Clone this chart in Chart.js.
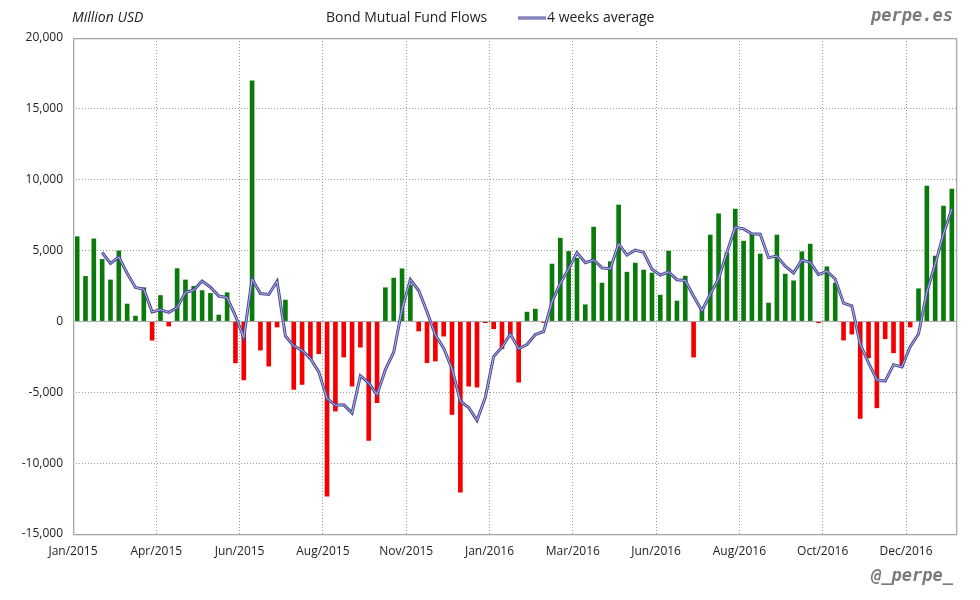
<!DOCTYPE html>
<html>
<head>
<meta charset="utf-8">
<script src="https://cdn.jsdelivr.net/npm/chart.js@4/dist/chart.umd.min.js"></script>
<style>
html,body{margin:0;padding:0;background:#fff;}
#wrap{width:980px;height:600px;position:relative;}
</style>
</head>
<body>
<div id="wrap"><canvas id="c" width="980" height="600"></canvas></div>
<script>
// Weekly bond mutual fund flows (Million USD), Jan 2015 - Dec 2016
const flows = [6000,3200,5850,4400,2950,5000,1250,400,2400,-1350,
  1850,-350,3750,2950,2500,2200,2000,470,2050,-2950,
  -4150,17000,-2050,-3180,-420,1530,-4820,-4470,-2660,-2300,
  -12350,-6350,-2540,-4590,-1840,-8420,-5760,2400,3080,3740,
  2590,-700,-2940,-2820,-1060,-6590,-12070,-4590,-4660,-120,
  -540,-1950,-940,-4310,680,890,-100,4070,5900,4960,
  4490,1200,6680,2730,4240,8240,3500,4140,3650,3440,
  1880,4990,1460,3220,-2540,870,6120,7620,4870,7950,
  5690,6210,4780,1320,6120,3360,2890,4940,5480,-120,
  3880,2730,-1340,-920,-6870,-2590,-6120,-1250,-2240,-3220,
  -420,2330,9580,4640,8160,9360];

// 4 weeks average
const avg4w = [null,null,null,4863,4100,4550,3400,2400,2263,675,
  825,638,975,2050,2213,2850,2413,1793,1680,393,
  -1145,2988,1963,1905,2838,-1030,-1723,-2045,-2605,-3563,
  -5445,-5915,-5885,-6458,-3830,-4348,-5153,-3405,-2175,865,
  2953,2178,673,-968,-1880,-3353,-5635,-6078,-6978,-5360,
  -2478,-1818,-888,-1935,-1630,-920,-710,1385,2690,3708,
  4855,4138,4333,3775,3713,5473,4678,5030,4883,3683,
  3278,3490,2943,2888,1783,753,1918,3018,4870,6640,
  6533,6180,6158,4500,4608,3895,3423,4328,4168,3298,
  3545,2993,1288,1088,-1600,-2930,-4125,-4208,-3050,-3208,
  -1783,-888,2068,4033,6178,7935];

const tickLabels = ['Jan/2015','Apr/2015','Jun/2015','Aug/2015','Nov/2015','Jan/2016',
  'Mar/2016','Jun/2016','Aug/2016','Oct/2016','Dec/2016'];
const tickEvery = 10;
const categories = flows.map((_, i) => 'W' + (i + 1));

const GREEN = '#0a7a0a', RED = '#f40000';
const GRID = '#9a9a9a';

const decor = {
  id: 'decor',
  beforeDatasetsDraw(chart) {
    const {ctx, chartArea: a, scales: {y}} = chart;
    ctx.save();
    ctx.strokeStyle = '#aaaaaa';
    ctx.lineWidth = 1;
    const y0 = Math.round(y.getPixelForValue(0)) + 0.5;
    ctx.beginPath(); ctx.moveTo(a.left, y0); ctx.lineTo(a.right, y0); ctx.stroke();
    ctx.restore();
  },
  afterDraw(chart) {
    const {ctx, chartArea: a} = chart;
    ctx.save();
    // frame with soft shadow
    ctx.strokeStyle = '#e4e4e4'; ctx.lineWidth = 1;
    ctx.strokeRect(Math.round(a.left) + 1.5, Math.round(a.top) + 1.5, Math.round(a.right - a.left), Math.round(a.bottom - a.top));
    ctx.strokeStyle = '#a8a8a8';
    ctx.strokeRect(Math.round(a.left) + 0.5, Math.round(a.top) + 0.5, Math.round(a.right - a.left), Math.round(a.bottom - a.top));
    // header texts
    ctx.fillStyle = '#222';
    ctx.textBaseline = 'middle';
    ctx.font = 'italic 14px "Open Sans"';
    ctx.textAlign = 'left';
    ctx.fillText('Million USD', 72, 18);
    ctx.font = '14px "Open Sans"';
    ctx.fillText('Bond Mutual Fund Flows', 326, 18);
    // legend line
    ctx.strokeStyle = '#4a4a98'; ctx.lineWidth = 3;
    ctx.beginPath(); ctx.moveTo(518, 18); ctx.lineTo(546, 18); ctx.stroke();
    ctx.strokeStyle = '#b8b8e4'; ctx.lineWidth = 1;
    ctx.beginPath(); ctx.moveTo(518, 18); ctx.lineTo(546, 18); ctx.stroke();
    ctx.fillStyle = '#222';
    ctx.fillText('4 weeks average', 547, 18);
    // watermarks
    ctx.fillStyle = '#7a7a7a';
    ctx.font = 'bold oblique 17px "DejaVu Sans Mono"';
    ctx.textAlign = 'right';
    ctx.fillText('perpe.es', 953, 17);
    ctx.fillText('@_perpe_', 953, 577);
    ctx.restore();
  }
};

new Chart(document.getElementById('c'), {
  type: 'bar',
  data: {
    labels: categories,
    datasets: [
      {
        type: 'line', label: '4 weeks average inner', data: avg4w,
        borderColor: '#b8b8e4', borderWidth: 1, pointRadius: 0, tension: 0,
        spanGaps: false, order: 0
      },
      {
        type: 'line', label: '4 weeks average', data: avg4w,
        borderColor: '#4a4a98', borderWidth: 3, pointRadius: 0, tension: 0,
        spanGaps: false, order: 1
      },
      {
        label: 'Bond Mutual Fund Flows', data: flows,
        backgroundColor: ctx => (ctx.raw >= 0 ? GREEN : RED),
        borderWidth: 0, barPercentage: 0.62, categoryPercentage: 0.9, order: 2
      }
    ]
  },
  plugins: [decor],
  options: {
    responsive: false,
    animation: false,
    devicePixelRatio: 1,
    layout: { padding: { top: 38, right: 24, bottom: 0, left: 0 } },
    plugins: { legend: { display: false }, tooltip: { enabled: false }, title: { display: false } },
    scales: {
      x: {
        type: 'category',
        offset: true,
        grid: {
          offset: true, drawTicks: false,
          color: c => (c.index % tickEvery === 0 && c.index > 0 && c.index < flows.length ? GRID : 'rgba(0,0,0,0)'),
          lineWidth: 1
        },
        border: { display: false, dash: [1, 2] },
        ticks: {
          autoSkip: false, maxRotation: 0, minRotation: 0, padding: 10,
          labelOffset: -4.2,
          color: '#222', font: { family: 'Open Sans', size: 12 },
          callback: (v, i) => (i % tickEvery === 0 ? tickLabels[i / tickEvery] : '')
        },
        afterFit: s => { s.height = 66; }
      },
      y: {
        min: -15000, max: 20000,
        ticks: {
          stepSize: 5000, padding: 10, color: '#222',
          font: { family: 'Open Sans', size: 12 },
          callback: v => v.toLocaleString('en-US')
        },
        grid: {
          drawTicks: false,
          color: c => (c.tick && (c.tick.value === 0 || c.tick.value === 20000 || c.tick.value === -15000) ? 'rgba(0,0,0,0)' : GRID)
        },
        border: { display: false, dash: [1, 2] },
        afterFit: s => { s.width = 73; }
      }
    }
  }
});
</script>
</body>
</html>
